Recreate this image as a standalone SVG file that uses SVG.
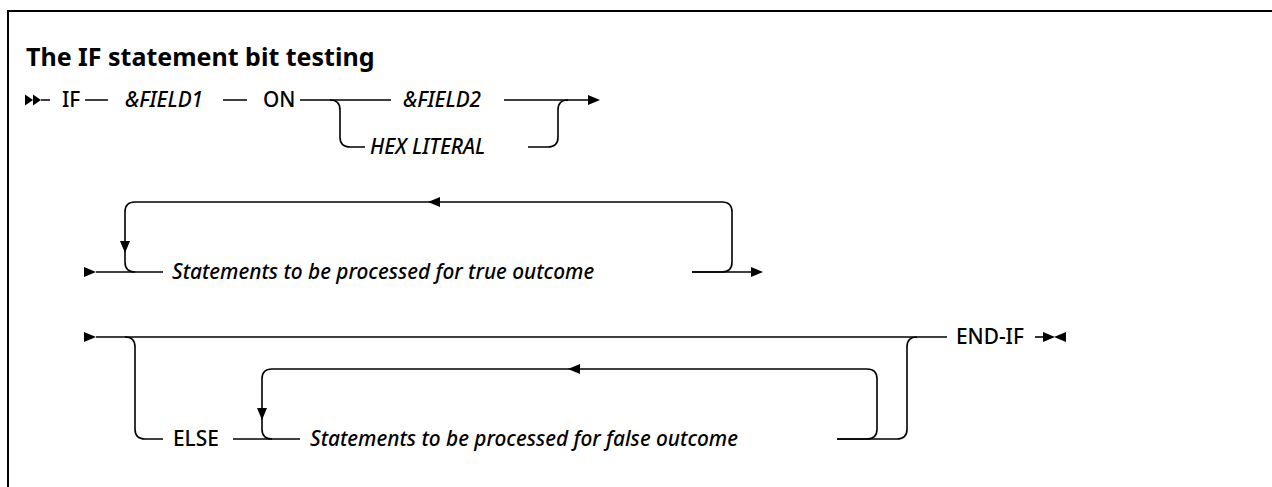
<svg xmlns="http://www.w3.org/2000/svg" width="1272" height="487" viewBox="0 0 1272 487">
<style>
.ln{fill:none;stroke:#000;stroke-width:1.6}
.ah{fill:#000;stroke:none}
.t{font-family:"Noto Sans","Liberation Sans",sans-serif;font-size:20.8px;font-weight:500;fill:#000}
.i{font-style:italic}
.title{font-family:"Noto Sans","Liberation Sans",sans-serif;font-size:25px;font-weight:700;fill:#000}
</style>
<rect width="1272" height="487" fill="#fff"/>
<path d="M8,490 V11 H1280" fill="none" stroke="#000" stroke-width="2"/>
<g id="title"><text class="title" x="26" y="66">The IF statement bit testing</text></g>
<g id="n-if"><text class="t" x="62" y="107">IF</text></g>
<g id="n-field1"><text class="t i" x="125" y="107">&amp;FIELD1</text></g>
<g id="n-on"><text class="t" x="263" y="107">ON</text></g>
<g id="n-field2"><text class="t i" x="403" y="107">&amp;FIELD2</text></g>
<g id="n-hex"><text class="t i" x="370" y="154">HEX LITERAL</text></g>
<g id="n-true"><text class="t i" x="172" y="279">Statements to be processed for true outcome</text></g>
<g id="n-else"><text class="t" x="173" y="446">ELSE</text></g>
<g id="n-false"><text class="t i" x="310" y="446">Statements to be processed for false outcome</text></g>
<g id="n-endif"><text class="t" x="956" y="344">END-IF</text></g>
<g id="connectors">
<path class="ah" d="M25,94.5 L33,100 L25,105.5 Z M33,94.5 L41,100 L33,105.5 Z"/>
<path class="ln" d="M41,100 H50 M85,100 H108 M223,100 H247 M300,100 H391 M504,100 H590"/>
<path class="ah" d="M588,95 L600,100 L588,105 Z"/>
<path class="ln" d="M330,100 Q340,100 340,110 V137 Q340,147 350,147 H365"/>
<path class="ln" d="M528,147 H548 Q558,147 558,137 V110 Q558,100 568,100"/>
<path class="ah" d="M84,267 L96,272 L84,277 Z"/>
<path class="ln" d="M96,272 H163"/>
<path class="ln" d="M692,272 H722 Q732,272 732,262 V212 Q732,202 722,202 H135 Q125,202 125,212 V262 Q125,272 135,272"/>
<path class="ah" d="M428,202 L440,197 L440,207 Z"/>
<path class="ah" d="M120,241 L130,241 L125,253 Z"/>
<path class="ln" d="M692,272 H753"/>
<path class="ah" d="M751,267 L763,272 L751,277 Z"/>
<path class="ah" d="M84,332 L96,337 L84,342 Z"/>
<path class="ln" d="M96,337 H947"/>
<path class="ln" d="M125,337 Q135,337 135,347 V429 Q135,439 145,439 H163"/>
<path class="ln" d="M233,439 H300"/>
<path class="ln" d="M837,439 H867 Q877,439 877,429 V379 Q877,369 867,369 H272 Q262,369 262,379 V429 Q262,439 272,439"/>
<path class="ah" d="M568,369 L580,364 L580,374 Z"/>
<path class="ah" d="M257,408 L267,408 L262,420 Z"/>
<path class="ln" d="M837,439 H897 Q907,439 907,429 V347 Q907,337 917,337"/>
<path class="ln" d="M1035,337 H1045"/>
<path class="ah" d="M1043,332 L1055,337 L1043,342 Z M1066,332 L1054,337 L1066,342 Z"/>
</g>
</svg>
